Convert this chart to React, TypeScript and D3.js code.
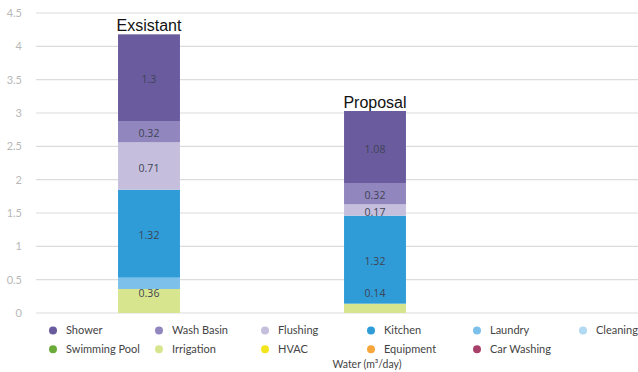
import React from "react";
import * as d3 from "d3";

const categories = ["Exsistant", "Proposal"];
const seriesNames = [
  "Shower", "Wash Basin", "Flushing", "Kitchen", "Laundry", "Cleaning",
  "Swimming Pool", "Irrigation", "HVAC", "Equipment", "Car Washing",
];
const seriesColors = [
  "#6a5b9e", "#9186be", "#c5bfdd", "#2f9cd8", "#7dc1ea", "#b2d9f2",
  "#6aab3a", "#d7e68e", "#f3e51d", "#f6a63b", "#a8416a",
];
// values per category
const shower = [1.3, 1.08];
const washBasin = [0.32, 0.32];
const flushing = [0.71, 0.17];
const kitchen = [1.32, 1.32];
const laundry = [0.17, 0];
const irrigation = [0.36, 0.14];
const labeled = ["Shower", "Wash Basin", "Flushing", "Kitchen", "Irrigation"];
const yTicks = [0, 0.5, 1, 1.5, 2, 2.5, 3, 3.5, 4, 4.5];

const stackOrder = [
  { name: "Irrigation", values: irrigation },
  { name: "Laundry", values: laundry },
  { name: "Kitchen", values: kitchen },
  { name: "Flushing", values: flushing },
  { name: "Wash Basin", values: washBasin },
  { name: "Shower", values: shower },
];

const W = 638;
const H = 372;

export default function App() {
  const y = d3.scaleLinear().domain([0, 4.5]).range([313, 13]);
  const x = d3
    .scaleBand<string>()
    .domain(categories)
    .range([36, 488])
    .paddingInner(0.726)
    .paddingOuter(0.363);

  const rows = categories.map((c, i) => {
    const r: Record<string, any> = { cat: c };
    stackOrder.forEach((s) => (r[s.name] = s.values[i]));
    return r;
  });
  const stack = d3.stack<any>().keys(stackOrder.map((s) => s.name))(rows);
  const colorOf = (n: string) => seriesColors[seriesNames.indexOf(n)];

  const legendCols = 6;
  const legendX = d3.scaleLinear().domain([0, 1]).range([53, 159]);
  const legendY = d3.scaleLinear().domain([0, 1]).range([330.5, 349.3]);

  return (
    <svg width={W} height={H} style={{ position: "absolute", left: 0, top: 0 }}>
      <rect width={W} height={H} fill="#ffffff" />
      {yTicks.map((t) => (
        <g key={t}>
          <line x1={36} x2={W} y1={y(t)} y2={y(t)} stroke="#dcdcdc" strokeWidth={1.2} />
          <text
            x={22}
            y={y(t)}
            dy="0.35em"
            textAnchor="end"
            fontFamily="Lato, 'Open Sans', sans-serif"
            fontSize={11}
            fill="#b8b8b8"
          >
            {t}
          </text>
        </g>
      ))}
      {stack.map((layer) =>
        layer.map((d, i) => {
          const h = y(d[0]) - y(d[1]);
          if (h <= 0) return null;
          return (
            <rect
              key={layer.key + i}
              x={x(categories[i])}
              y={y(d[1])}
              width={x.bandwidth()}
              height={h}
              fill={colorOf(layer.key as string)}
            />
          );
        })
      )}
      {stack.map((layer) =>
        labeled.includes(layer.key as string)
          ? layer.map((d, i) => {
              const v = d[1] - d[0];
              if (v <= 0) return null;
              const cy = Math.min((y(d[0]) + y(d[1])) / 2 + 2, y(0) - 20);
              return (
                <text
                  key={"l" + layer.key + i}
                  x={(x(categories[i]) as number) + x.bandwidth() / 2}
                  y={cy}
                  dy="0.35em"
                  textAnchor="middle"
                  fontFamily="'Open Sans', Lato, sans-serif"
                  fontSize={10.5}
                  fill="#3e4455"
                >
                  {+v.toFixed(2)}
                </text>
              );
            })
          : null
      )}
      {categories.map((c, i) => {
        const total = stack[stack.length - 1][i][1];
        return (
          <text
            key={"t" + c}
            x={(x(c) as number) + x.bandwidth() / 2}
            y={y(total) - 3}
            textAnchor="middle"
            fontFamily="'Liberation Sans', Arial, sans-serif"
            fontSize={16}
            fill="#111"
          >
            {c}
          </text>
        );
      })}
      {seriesNames.map((n, i) => {
        const col = i % legendCols;
        const row = Math.floor(i / legendCols);
        const cx = legendX(col);
        const cy = legendY(row);
        return (
          <g key={"lg" + n}>
            <circle cx={cx} cy={cy} r={4} fill={seriesColors[i]} />
            <text
              x={cx + 13}
              y={cy}
              dy="0.35em"
              fontFamily="Lato, 'Open Sans', sans-serif"
              fontSize={11}
              fill="#444"
            >
              {n}
            </text>
          </g>
        );
      })}
      <text
        x={367}
        y={364}
        dy="0.35em"
        textAnchor="middle"
        fontFamily="Lato, 'Open Sans', sans-serif"
        fontSize={10.5}
        fill="#444"
      >
        Water (m³/day)
      </text>
    </svg>
  );
}
